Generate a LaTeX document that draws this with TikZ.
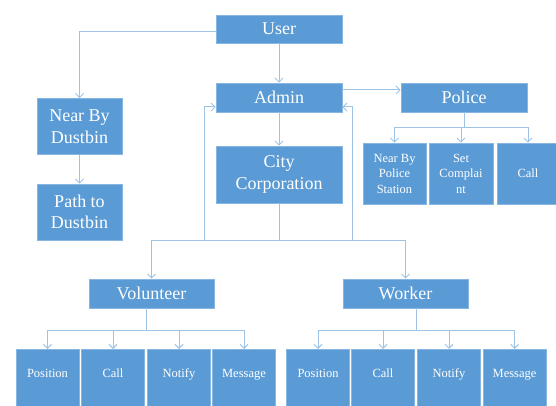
\documentclass[tikz,border=0pt]{standalone}
\usepackage{fontspec}
\setmainfont{Liberation Serif}
\usetikzlibrary{arrows.meta}

\definecolor{boxblue}{RGB}{91,155,213}
\definecolor{boxedge}{RGB}{135,182,226}
\definecolor{linkblue}{RGB}{157,195,230}
\newcommand\bigtextstyle{\fontsize{18pt}{21.5pt}\selectfont}
\newcommand\smalltextstyle{\fontsize{12.5pt}{15.5pt}\selectfont}
\newcommand\boxwidth{126pt}
\newcommand\leafwidth{63pt}

\tikzset{
  flowbox/.style={draw=boxedge, line width=.6pt, fill=boxblue, text=white, align=center, inner sep=0pt},
  bigbox/.style={flowbox, font=\bigtextstyle, minimum width=\boxwidth, minimum height=29pt},
  smallbox/.style={flowbox, font=\smalltextstyle, minimum width=\leafwidth, minimum height=61pt},
  leafbox/.style={flowbox, font=\smalltextstyle, minimum width=\leafwidth, anchor=north, text height=28pt, text depth=42pt},
  link/.style={draw=linkblue, line width=1pt},
  linkarrow/.style={link, -{Straight Barb[length=4pt,width=8pt]}},
}

\begin{document}
\begin{tikzpicture}[x=1pt, y=-1pt]
  \useasboundingbox (0,0) rectangle (556,406);
  \clip (0,0) rectangle (556,406);
  % top row
  \node[bigbox, minimum height=28pt] (user) at (279,29) {User};
  \node[bigbox] (admin) at (279,97.5) {Admin};
  \node[bigbox] (police) at (464,97.5) {Police};
  \node[bigbox, minimum width=85pt, minimum height=56pt] (nbd) at (79.5,126.5) {Near By\\Dustbin};
  \node[bigbox, minimum width=85pt, minimum height=56pt] (path) at (79.5,212) {Path to\\Dustbin};
  \node[bigbox, minimum height=57pt] (city) at (279,174.5) {City\\Corporation};
  % police side
  \node[smallbox] (nbps) at (394.5,173.5) {Near By\\Police\\Station};
  \node[smallbox, minimum width=64pt] (complaint) at (461,173.5) {Set\\Complai\\nt};
  \node[smallbox, minimum width=62pt] (pcall) at (528,173.5) {Call};
  % second level
  \node[bigbox, minimum width=125pt] (volunteer) at (151.5,293.5) {Volunteer};
  \node[bigbox, minimum width=125pt] (worker) at (405.5,293.5) {Worker};

  \draw[linkarrow] ([yshift=-3pt]user.west) -| (nbd.north);
  \draw[linkarrow] (user.south) -- (admin.north);
  \draw[linkarrow] ([yshift=7.5pt]admin.east) -- ([yshift=7.5pt]police.west);
  \draw[linkarrow] (nbd.south) -- (path.north);
  \draw[linkarrow] (admin.south) -- (city.north);

  \coordinate (pfork) at ([yshift=-15pt]police.south);
  \draw[link] (police.south) -- (pfork);
  \foreach \name in {nbps,complaint,pcall}
    \draw[linkarrow] (pfork) -| (\name.north);

  \coordinate (cfork) at ([yshift=-37pt]city.south);
  \coordinate (lloop) at (204,240);
  \coordinate (rloop) at (352,240);
  \draw[link] (city.south) -- (cfork);
  \draw[linkarrow] (cfork) -| (volunteer.north);
  \draw[linkarrow] (cfork) -| (worker.north);
  \draw[linkarrow] (lloop) |- ([yshift=-9.5pt]admin.west);
  \draw[linkarrow] (rloop) |- ([yshift=-9.5pt]admin.east);

  % volunteer / worker leaves
  \coordinate (vfork) at ([xshift=-5.5pt,yshift=-22pt]volunteer.south);
  \coordinate (wfork) at ([xshift=10.5pt,yshift=-22pt]worker.south);
  \draw[link] (vfork |- volunteer.south) -- (vfork);
  \draw[link] (wfork |- worker.south) -- (wfork);
  \foreach \x/\name/\txt in {47.5/vpos/Position, 113/vcall/Call, 179/vnotify/Notify, 244/vmsg/Message} {
    \node[leafbox] (\name) at (\x,349) {\txt};
    \draw[linkarrow] (vfork) -| (\name.north);
  }
  \foreach \x/\name/\txt in {318/wpos/Position, 383/wcall/Call, 449/wnotify/Notify, 514.5/wmsg/Message} {
    \node[leafbox] (\name) at (\x,349) {\txt};
    \draw[linkarrow] (wfork) -| (\name.north);
  }
\end{tikzpicture}
\end{document}
